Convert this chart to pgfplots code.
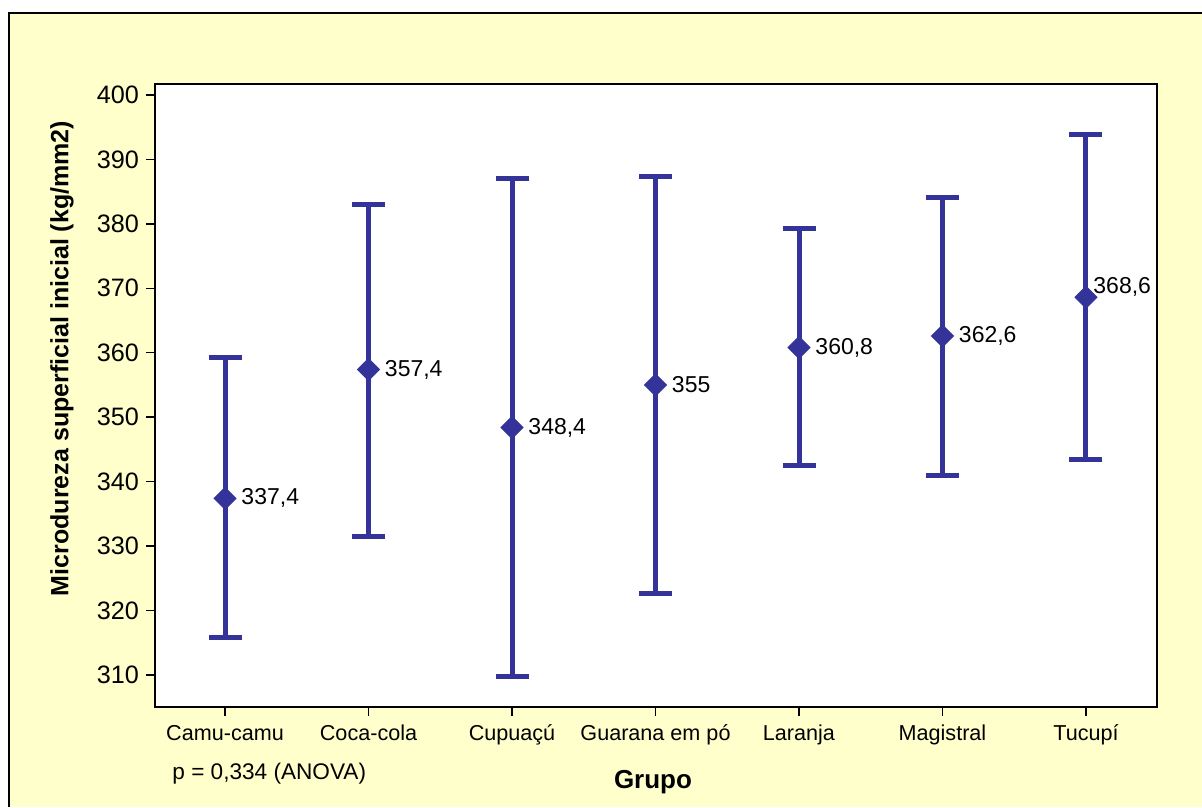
\documentclass[border=0pt]{standalone}
\usepackage{pgfplots}
\pgfplotsset{compat=1.18}
\usepackage{pgfplotstable}
\usepackage{fontspec}
\setmainfont{Liberation Sans}
\definecolor{mtblue}{RGB}{51,51,153}
\definecolor{mtyellow}{RGB}{255,255,204}

\pgfplotstableread{
x y ep em label
0 337.4 21.8 21.55 337,4
1 357.4 25.6 25.9 357,4
2 348.4 38.6 38.7 348,4
3 355.0 32.3 32.3 355
4 360.8 18.4 18.3 360,8
5 362.6 21.5 21.7 362,6
}\maindata
\pgfplotstableread{
x y ep em label
6 368.6 25.2 25.1 368,6
}\tucdata

\begin{document}
\begin{tikzpicture}
\path[use as bounding box] (0,0) rectangle (601pt,403.5pt);
\fill[mtyellow] (4.5pt,0) rectangle (601pt,397pt);
\draw[line width=0.75pt] (4.5pt,0) -- (4.5pt,397pt) -- (601pt,397pt);
\begin{axis}[
  at={(77.5pt,50pt)}, anchor=south west,
  width=501pt, height=311.5pt, scale only axis,
  axis background/.style={fill=white},
  axis line style={line width=0.75pt},
  xmin=-0.488, xmax=6.495,
  ymin=305.03, ymax=401.7,
  xtick={0,1,2,3,4,5,6},
  xticklabels={Camu-camu,Coca-cola,Cupuaçú,Guarana em pó,Laranja,Magistral,Tucupí},
  ytick={310,320,330,340,350,360,370,380,390,400},
  tick align=outside, tick pos=left,
  major tick length=4.5pt,
  tick style={line width=0.75pt, black},
  /pgf/number format/assume math mode=true,
  /pgf/number format/1000 sep={},
  yticklabel style={font=\fontsize{12.6}{14}\selectfont},
  xticklabel style={font=\fontsize{10.8}{13}\selectfont, yshift=-1pt},
  clip=false,
]
\addplot[mtblue, only marks, mark=square*, mark size=3.9pt, mark options={rotate=45, fill=mtblue, draw=mtblue},
  error bars/.cd, y dir=both, y explicit,
  error mark=|, error mark options={line width=2.5pt, mark size=8.25pt, mtblue},
  error bar style={line width=2.5pt, mtblue}]
  table[x=x, y=y, y error plus=ep, y error minus=em] {\maindata};
\addplot[mtblue, only marks, mark=square*, mark size=3.9pt, mark options={rotate=45, fill=mtblue, draw=mtblue},
  error bars/.cd, y dir=both, y explicit,
  error mark=|, error mark options={line width=2.5pt, mark size=8.25pt, mtblue},
  error bar style={line width=2.5pt, mtblue}]
  table[x=x, y=y, y error plus=ep, y error minus=em] {\tucdata};
\addplot[draw=none, mark=none, point meta=explicit symbolic,
  nodes near coords, nodes near coords align={anchor=west},
  every node near coord/.style={anchor=west, xshift=4.7pt, black, font=\fontsize{11.5}{13}\selectfont}]
  table[x=x, y=y, meta=label] {\maindata};
\addplot[draw=none, mark=none, point meta=explicit symbolic,
  nodes near coords, nodes near coords align={anchor=west},
  every node near coord/.style={anchor=west, xshift=0.2pt, yshift=5pt, black, font=\fontsize{11.5}{13}\selectfont}]
  table[x=x, y=y, meta=label] {\tucdata};
\node[rotate=90, anchor=center, font=\fontsize{12.5}{14}\selectfont\bfseries] at (axis description cs:-0.0928,0.5594) {Microdureza superficial inicial (kg/mm2)};
\node[anchor=center, font=\fontsize{13}{15}\selectfont\bfseries] at (axis description cs:0.497,-0.1204) {Grupo};
\node[anchor=west, inner sep=0pt, font=\fontsize{11.3}{13}\selectfont] at (axis description cs:0.017,-0.1075) {p = 0,334 (ANOVA)};
\end{axis}
\end{tikzpicture}
\end{document}
